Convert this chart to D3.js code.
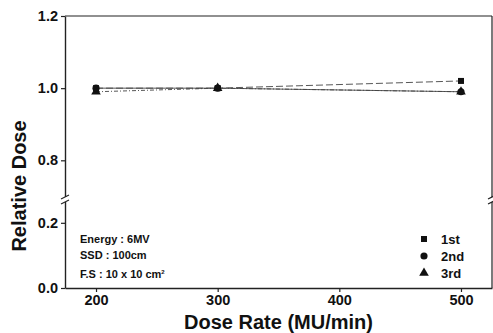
<!DOCTYPE html>
<html>
<head>
<meta charset="utf-8">
<script src="https://cdn.jsdelivr.net/npm/d3@7"></script>
<style>
  body { margin: 0; background: #fff; }
  svg { display: block; font-family: "Liberation Sans", Arial, sans-serif; }
</style>
</head>
<body>
<div id="chart"></div>
<script>
// data
var doseRates = [200, 300, 500];
var first  = [1.00, 1.00, 1.02];
var second = [1.00, 1.00, 0.99];
var third  = [0.99, 1.00, 0.99];
var seriesNames = ["1st", "2nd", "3rd"];
var xTicks = [200, 300, 400, 500];
var yTicksUpper = [0.8, 1.0, 1.2];
var yTicksLower = [0.0, 0.2];
var notes = ["Energy : 6MV", "SSD : 100cm", "F.S : 10 x 10 cm"];

function drawChart() {
  var W = 493, H = 333;
  var mLeft = 65, mRight = 492, mTop = 16, mBottom = 288, breakY = 200;

  var svg = d3.select("#chart").append("svg")
      .attr("width", W).attr("height", H);

  var x = d3.scaleLinear().domain([174.5, 525.5]).range([mLeft, mRight]);
  // broken y axis: two pieces
  var yUp = d3.scaleLinear().domain([0.69, 1.2]).range([breakY, mTop]);
  var yLo = d3.scaleLinear().domain([0, 0.27]).range([mBottom, breakY]);

  // frame
  svg.append("line").attr("x1", mLeft).attr("x2", mRight).attr("y1", mTop).attr("y2", mTop)
      .attr("stroke", "#222").attr("stroke-width", 1.2);
  svg.append("line").attr("x1", mRight).attr("x2", mRight).attr("y1", mTop).attr("y2", mBottom)
      .attr("stroke", "#222").attr("stroke-width", 1.2);

  // x axis
  svg.append("g")
      .attr("transform", "translate(0," + mBottom + ")")
      .call(d3.axisBottom(x).tickValues(xTicks).tickSize(4).tickPadding(3).tickSizeOuter(0));

  // y axis pieces
  svg.append("g")
      .attr("transform", "translate(" + mLeft + ",0)")
      .call(d3.axisLeft(yUp).tickValues(yTicksUpper).tickFormat(d3.format(".1f")).tickSize(4).tickPadding(3).tickSizeOuter(0));
  svg.append("g")
      .attr("transform", "translate(" + mLeft + ",0)")
      .call(d3.axisLeft(yLo).tickValues(yTicksLower).tickFormat(d3.format(".1f")).tickSize(4).tickPadding(3).tickSizeOuter(0));

  svg.selectAll(".domain").attr("stroke", "#222").attr("stroke-width", 1.4);
  svg.selectAll(".tick line").attr("stroke", "#222").attr("stroke-width", 1.2);
  svg.selectAll(".tick text")
      .attr("font-size", 14.5).attr("font-weight", "bold").attr("fill", "#111")
      .attr("font-family", "Liberation Sans, Arial, sans-serif");

  // break marks on both vertical edges
  [mLeft, mRight].forEach(function(bx) {
    svg.append("rect").attr("x", bx - 3).attr("y", breakY - 3).attr("width", 6).attr("height", 5).attr("fill", "#fff");
    [-3, 2].forEach(function(dy) {
      svg.append("line")
        .attr("x1", bx - 4).attr("y1", breakY + dy + 2)
        .attr("x2", bx + 4).attr("y2", breakY + dy - 2)
        .attr("stroke", "#222").attr("stroke-width", 1.2);
    });
  });

  // series
  var series = [first, second, third].map(function(vals, i) {
    return { name: seriesNames[i], points: doseRates.map(function(r, j) { return { x: r, y: vals[j] }; }) };
  });
  var dashes = ["7,3", "none", "4,2,1,2"];
  var line = d3.line().x(function(d) { return x(d.x); }).y(function(d) { return yUp(d.y); });

  series.forEach(function(s, i) {
    svg.append("path").datum(s.points)
      .attr("d", line).attr("fill", "none")
      .attr("stroke", "#444").attr("stroke-width", 0.9)
      .attr("stroke-dasharray", dashes[i]);
  });

  var symbols = [d3.symbolSquare, d3.symbolCircle, d3.symbolTriangle];
  var sizes = [36, 40, 40];
  // draw 3rd first so 1st stays on top
  [2, 1, 0].forEach(function(i) {
    svg.selectAll(".m" + i).data(series[i].points).enter().append("path")
      .attr("class", "m" + i)
      .attr("d", d3.symbol().type(symbols[i]).size(sizes[i]))
      .attr("transform", function(d) { return "translate(" + x(d.x) + "," + yUp(d.y) + ")"; })
      .attr("fill", "#111");
  });

  // legend
  var legY = [240, 257, 274];
  seriesNames.forEach(function(n, i) {
    svg.append("path")
      .attr("d", d3.symbol().type(symbols[i]).size(sizes[i]))
      .attr("transform", "translate(424," + (legY[i] - 1) + ")")
      .attr("fill", "#111");
    svg.append("text").attr("x", 441).attr("y", legY[i] + 4)
      .attr("font-size", 13).attr("font-weight", "bold").attr("fill", "#111")
      .text(n);
  });

  // annotation
  var noteY = [243, 259, 278];
  notes.forEach(function(t, i) {
    var tx = svg.append("text").attr("x", 80).attr("y", noteY[i])
      .attr("font-size", 11).attr("font-weight", "bold").attr("fill", "#111")
      .text(t);
    if (i === 2) tx.append("tspan").attr("dy", -4).attr("font-size", 6).text("2");
  });

  // axis titles
  svg.append("text").attr("x", (mLeft + mRight) / 2).attr("y", 329)
    .attr("text-anchor", "middle").attr("font-size", 20).attr("font-weight", "bold").attr("fill", "#111")
    .text("Dose Rate (MU/min)");
  svg.append("text")
    .attr("transform", "translate(26," + 186 + ") rotate(-90)")
    .attr("text-anchor", "middle").attr("font-size", 20).attr("font-weight", "bold").attr("fill", "#111")
    .text("Relative Dose");
}

drawChart();
</script>
</body>
</html>
